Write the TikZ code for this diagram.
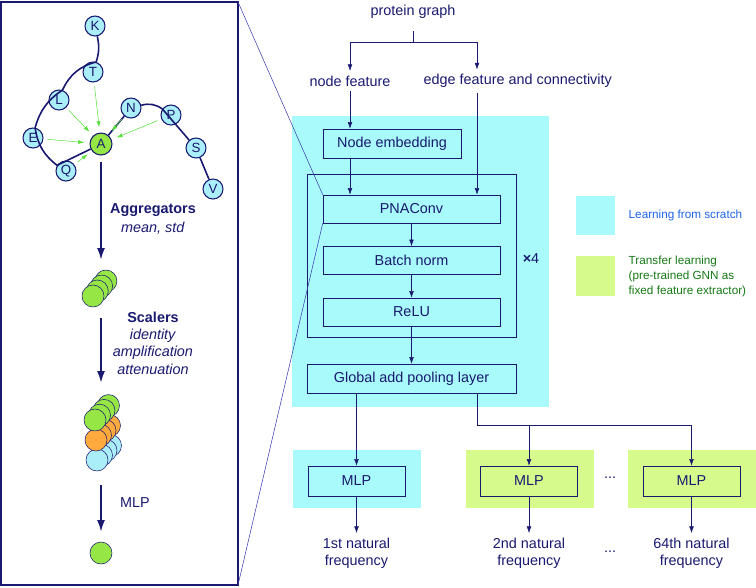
\documentclass[tikz,border=0pt]{standalone}
\usepackage{fontspec}
\setmainfont{Liberation Sans}
\usetikzlibrary{arrows.meta}
\definecolor{navy}{RGB}{25,25,112}
\definecolor{scratch}{RGB}{168,250,251}
\definecolor{transfer}{RGB}{214,250,140}
\definecolor{resfill}{RGB}{170,238,250}
\definecolor{aggfill}{RGB}{150,230,70}
\definecolor{stackorange}{RGB}{255,170,60}
\definecolor{msggreen}{RGB}{90,225,60}
\definecolor{learnblue}{RGB}{30,100,230}
\definecolor{transgreen}{RGB}{20,120,20}
\definecolor{zoomblue}{RGB}{60,60,175}
\begin{document}
\begin{tikzpicture}[x=0.75pt,y=-0.75pt,font=\fontsize{10.8}{12.75}\selectfont,
    layer/.style={draw=navy,text=navy,minimum width=132.75pt,minimum height=21pt,inner sep=0pt},
    mlp/.style={draw=navy,text=navy,minimum width=72.75pt,minimum height=22.5pt,inner sep=0pt},
    lbl/.style={text=navy,align=center},
    res/.style={circle,draw=navy,thick,fill=resfill,text=navy,minimum size=15pt,inner sep=0pt,font=\fontsize{10}{12}\selectfont},
    flow/.style={draw=navy,-{Latex[length=5pt,width=3.5pt]}},
    big/.style={draw=navy,line width=1.5pt,-{Latex[length=9pt,width=6pt]}},
    msg/.style={draw=msggreen,shorten <=3pt,shorten >=4pt,-{Latex[length=4.5pt,width=3pt]}},
    chain/.style={draw=navy,line width=1.2pt}]
    \useasboundingbox (0,0) rectangle (756,587);
    \fill[scratch](292,116) rectangle (549,407);
    \foreach \x/\c in {357/scratch,529.5/transfer,691.5/transfer}{
        \fill[\c](\x-64,450) rectangle (\x+64,508);
    }
    \draw[navy,thick](1,2) rectangle (238,585);
    \coordinate (panelne) at (238,2);
    \coordinate (panelse) at (238,585);

    \node[lbl] (pg) at (413,12) {protein graph};
    \node[lbl] (nf) at (350,81) {node feature};
    \node[lbl,anchor=west] (ef) at (419,81) {edge feature and connectivity};
    \node[layer,minimum width=103.5pt,minimum height=21.75pt] (emb) at (392,143.5) {Node embedding};
    \draw[navy](307,174) rectangle (516,337);
    \node[layer] (pna) at (411.5,209) {PNAConv};
    \node[layer] (bn) at (411.5,260.5) {Batch norm};
    \node[layer] (relu) at (411.5,312) {ReLU};
    \node[lbl] (rep) at (531,259) {\textbf{×}4};
    \node[layer,minimum width=156.75pt,minimum height=21.75pt] (pool) at (411.5,378.5) {Global add pooling layer};
    \foreach \n/\x/\t in {1/356.5/1st,2/529/2nd,3/691.5/64th}{
        \node[mlp] (mlp\n) at (\x,481) {MLP};
        \node[lbl] (f\n) at (\x,553) {\t\ natural\\frequency};
        \draw[flow](mlp\n) -- (f\n.north);
    }
    \node[lbl] (dm) at (610,478) {...};
    \node[lbl] (df) at (610,552) {...};

    \fill[scratch](576,196) rectangle (615,235);
    \fill[transfer](576,256) rectangle (615,296);
    \node[anchor=west,text=learnblue,font=\fontsize{8.8}{11.25}\selectfont] (lg1) at (624,215) {Learning from scratch};
    \node[anchor=west,align=left,text=transgreen,font=\fontsize{8.8}{11.25}\selectfont] (lg2) at (624,276) {Transfer learning\\(pre-trained GNN as\\fixed feature extractor)};

    \coordinate (split) at (413,42);
    \coordinate (ecol) at (477,93);
    \coordinate (psplit) at (477,425);
    \draw[navy,shorten <=6pt](pg.south) -- (split);
    \draw[flow](split) -| (nf.north);
    \draw[flow](split) -| (ecol |- ef.north);
    \draw[flow](nf.south) -- (nf.south |- emb.north);
    \draw[flow](ecol) -- (ecol |- pna.north);
    \draw[flow](emb.south -| nf) -- (pna.north -| nf);
    \draw[flow](pna) -- (bn);
    \draw[flow](bn) -- (relu);
    \draw[flow](relu) -- (pool);
    \draw[flow](pool.south -| mlp1) -- (mlp1);
    \draw[navy](pool.south -| psplit) |- (psplit -| mlp3);
    \draw[flow](psplit -| mlp2) -- (mlp2);
    \draw[flow](psplit -| mlp3) -- (mlp3);
    \draw[zoomblue,thin](panelne) -- (pna.north west);
    \draw[zoomblue,thin](panelse) -- (pna.south west);

    \foreach \n/\x/\y in {K/95/26,T/93/72,L/59/100,E/33/138,Q/66/171,N/131/108,P/171/115,S/196/148,V/213/189}{
        \node[res] (\n) at (\x,\y) {\n};
    }
    \node[res,fill=aggfill,minimum size=16.5pt] (A) at (101,144) {A};
    \draw[chain](K) to[bend left=15] (T) to[bend right=25] (L) to[bend right=20] (E) to[bend right=22] (Q) -- (A) -- (N) to[bend left=25] (P) -- (S) -- (V);
    \foreach \n in {T,L,E,Q,N,P}{
        \draw[msg](\n) -- (A);
    }

    \coordinate (agg) at (101,260);
    \coordinate (sctop) at (101,318);
    \coordinate (scbot) at (101,383);
    \coordinate (mlptop) at (101,485);
    \coordinate (mlpbot) at (101,532);
    \draw[big,shorten <=5pt](A) -- (agg);
    \draw[big](sctop) -- (scbot);
    \draw[big](mlptop) -- (mlpbot);
    \node[lbl] (aggl) at (153,219) {\textbf{Aggregators}\\[1pt]\textit{mean, std}};
    \node[lbl,font=\fontsize{10.8}{13}\selectfont] (scl) at (153,343) {\textbf{Scalers}\\\textit{identity}\\\textit{amplification}\\\textit{attenuation}};
    \node[lbl] (mlpl) at (135,503) {MLP};

    \foreach \k in {3,2,1,0}{
        \draw[navy,fill=aggfill](93+4.3*\k,296-5*\k) circle (11);
    }
    \foreach \cx/\cy/\col in {97/460/resfill,96/440/stackorange,95/420/aggfill}{
        \foreach \k in {3,2,1,0}{
            \draw[navy,fill=\col](\cx+4.5*\k,\cy-4.8*\k) circle (11);
        }
    }
    \draw[navy,fill=aggfill](101,553) circle (11);
\end{tikzpicture}
\end{document}
